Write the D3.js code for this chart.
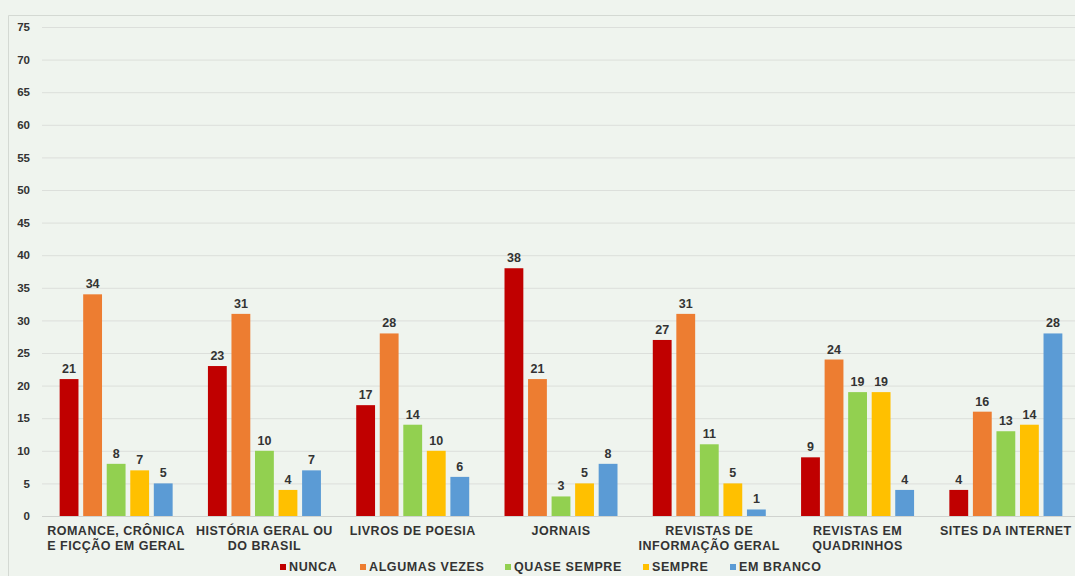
<!DOCTYPE html>
<html><head><meta charset="utf-8">
<script src="https://cdn.jsdelivr.net/npm/d3@7"></script>
<style>body{margin:0;background:#eff4ee;} svg{display:block;}</style>
</head><body>
<svg id="c" width="1075" height="576"></svg>
<script>
const categories = [
  ["ROMANCE, CRÔNICA","E FICÇÃO EM GERAL"],
  ["HISTÓRIA GERAL OU","DO BRASIL"],
  ["LIVROS DE POESIA"],
  ["JORNAIS"],
  ["REVISTAS DE","INFORMAÇÃO GERAL"],
  ["REVISTAS EM","QUADRINHOS"],
  ["SITES DA INTERNET"]
];
const seriesNames = ["NUNCA","ALGUMAS VEZES","QUASE SEMPRE","SEMPRE","EM BRANCO"];
const seriesColors = ["#C00000","#ED7D31","#92D050","#FFC000","#5B9BD5"];
const nunca = [21,23,17,38,27,9,4];
const algumas = [34,31,28,21,31,24,16];
const quase = [8,10,14,3,11,19,13];
const sempre = [7,4,10,5,5,19,14];
const branco = [5,7,6,8,1,4,28];
const yTicks = [0,5,10,15,20,25,30,35,40,45,50,55,60,65,70,75];
const seriesValues = [nunca, algumas, quase, sempre, branco];

const FONT = "Liberation Sans, Arial, sans-serif";
const svg = d3.select("#c");
svg.append("rect").attr("width",1075).attr("height",576).attr("fill","#eff4ee");
// frame
svg.append("path").attr("d","M8.5,576 V15.5 H1075").attr("fill","none").attr("stroke","#d4d9d3");

const y = d3.scaleLinear().domain([0,75]).range([516,27]);
const x0 = d3.scaleBand().domain(d3.range(categories.length)).range([42,1080]).paddingInner(0).paddingOuter(0);
const x1 = d3.scaleBand().domain(d3.range(5)).range([0,113]).paddingInner(0.2);
const gOff = (x0.bandwidth()-113)/2;

// grid
svg.append("g").selectAll("line").data(yTicks).join("line")
  .attr("x1",42).attr("x2",1075).attr("y1",d=>y(d)+0.5).attr("y2",d=>y(d)+0.5)
  .attr("stroke",d=>d===0?"#d0d3cf":"#dcdfdb").attr("stroke-width",1);

// y axis labels
const yAxis = d3.axisLeft(y).tickValues(yTicks).tickSize(0).tickPadding(0);
const ya = svg.append("g").attr("transform","translate(30,0)").call(yAxis);
ya.select(".domain").remove();
ya.selectAll("text").attr("font-family",FONT).attr("font-size",11.5)
  .attr("font-weight","bold").attr("fill","#333").attr("text-anchor","end");

// bars
const groups = svg.append("g").selectAll("g").data(categories).join("g")
  .attr("transform",(d,i)=>`translate(${x0(i)+gOff},0)`);
groups.each(function(c,i){
  const g = d3.select(this);
  seriesValues.forEach((vals,s)=>{
    g.append("rect").attr("x",x1(s)).attr("width",x1.bandwidth())
      .attr("y",y(vals[i])).attr("height",y(0)-y(vals[i])).attr("fill",seriesColors[s]);
    g.append("text").attr("x",x1(s)+x1.bandwidth()/2).attr("y",y(vals[i])-6)
      .attr("text-anchor","middle").attr("font-family",FONT)
      .attr("font-size",12.5).attr("font-weight","bold").attr("fill","#333").text(vals[i]);
  });
});

// category labels
const cl = svg.append("g").selectAll("text").data(categories).join("text")
  .attr("x",(d,i)=>x0(i)+x0.bandwidth()/2).attr("y",535)
  .attr("text-anchor","middle").attr("font-family",FONT)
  .attr("font-size",12.5).attr("letter-spacing",0.5).attr("font-weight","bold").attr("fill","#333");
cl.each(function(lines){
  d3.select(this).selectAll("tspan").data(lines).join("tspan")
    .attr("x",d3.select(this).attr("x")).attr("dy",(d,j)=>j===0?0:15).text(d=>d);
});

// legend
const legendX = [280,360,505,643,730];
const lg = svg.append("g").selectAll("g").data(seriesNames).join("g")
  .attr("transform",(d,i)=>`translate(${legendX[i]},571)`);
lg.append("rect").attr("x",0).attr("y",-7).attr("width",6).attr("height",6).attr("fill",(d,i)=>seriesColors[i]);
lg.append("text").attr("x",9).attr("y",0).attr("font-family",FONT)
  .attr("font-size",12.5).attr("letter-spacing",0.6).attr("font-weight","bold").attr("fill","#333").text(d=>d);
</script>
</body></html>
